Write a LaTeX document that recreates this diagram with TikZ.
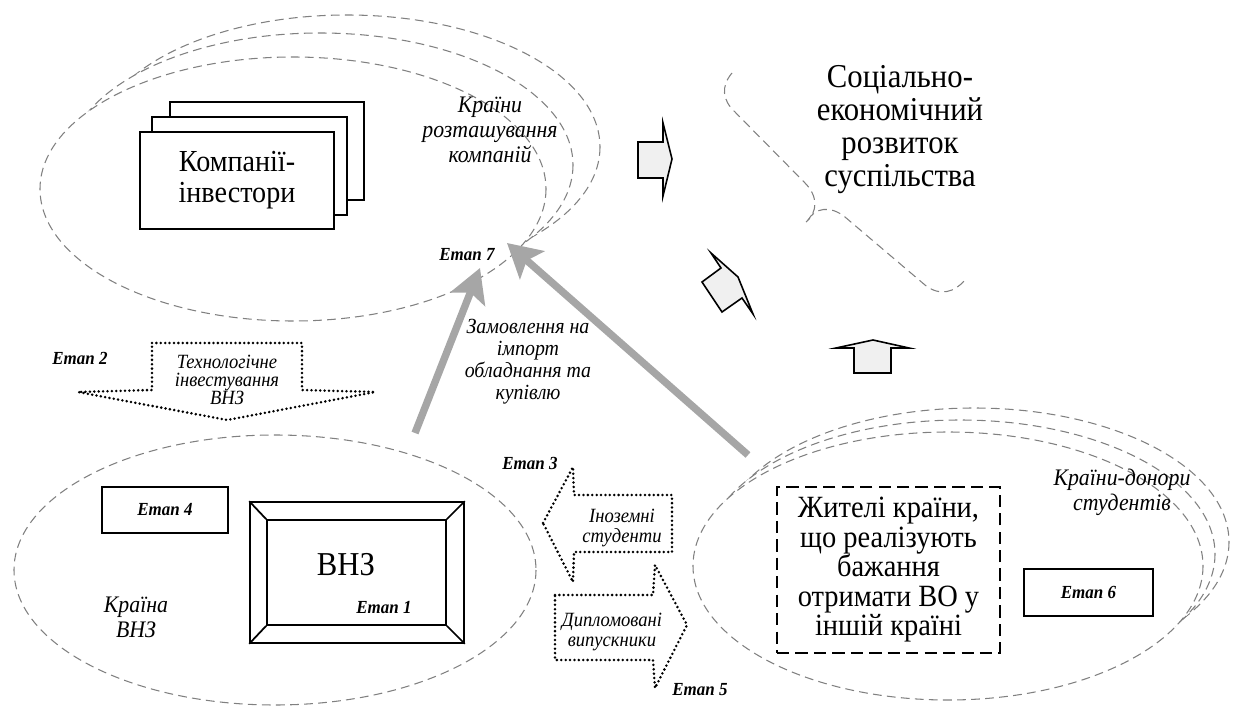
\documentclass[tikz,border=0pt]{standalone}
\usepackage{fontspec}
\setmainfont{Liberation Serif}[FakeStretch=0.92]
\usetikzlibrary{arrows.meta}

\begin{document}
\begin{tikzpicture}[x=0.02cm,y=-0.02cm,
    region/.style={draw=gray,fill=white,line width=0.6pt,dash pattern=on 5pt off 3pt},
    box/.style={draw,fill=white,line width=1pt,inner sep=0pt},
    dotarrow/.style={line width=1.6pt,line cap=round,dash pattern=on 0pt off 2.5pt},
    blockarrow/.style={draw,line width=0.9pt,fill=gray!12},
    flow/.style={line width=4.2pt,draw=gray!70,-{Stealth[length=19pt,width=21pt,inset=4pt]}},
    stage/.style={font=\fontsize{10.5}{12}\selectfont\bfseries\itshape},
    note/.style={font=\fontsize{13.5}{14.2}\selectfont\itshape,align=center},
    small/.style={font=\fontsize{11.5}{10.4}\selectfont\itshape,align=center},
    big/.style={font=\fontsize{17.4}{17.6}\selectfont,align=center}]
  \useasboundingbox (0,0) rectangle (1235,706);

  % country regions
  \draw[region] (347,147) ellipse [x radius=253, y radius=132];
  \draw[region] (320,165) ellipse [x radius=253, y radius=132];
  \draw[region] (293,189) ellipse [x radius=253, y radius=132];
  \draw[region] (275,570) ellipse [x radius=261, y radius=135];
  \draw[region] (974,542) ellipse [x radius=255, y radius=134];
  \draw[region] (960,554) ellipse [x radius=255, y radius=134];
  \draw[region] (948,566) ellipse [x radius=255, y radius=134];

  \node[note] (hostlbl) at (490,130) {Країни\\розташування\\компаній};
  \node[note] (homelbl) at (136,617) {Країна\\ВНЗ};
  \node[note] (donorlbl) at (1122,492) {Країни-донори\\студентів};

  % investors
  \node[box,minimum width=3.88cm,minimum height=1.96cm] (cbox3) at (267,151) {};
  \node[box,minimum width=3.9cm,minimum height=1.96cm] (cbox2) at (249.5,166) {};
  \node[box,minimum width=3.88cm,minimum height=1.94cm,big] (companies) at (237,180.5) {Компанії-\\інвестори};

  % university
  \node[box,minimum width=4.28cm,minimum height=2.82cm] (vnz) at (357,572.5) {};
  \node[box,minimum width=3.58cm,minimum height=2.1cm] (vnzin) at (356.5,572.5) {};
  \foreach \c in {north west,north east,south west,south east}
    \draw[line width=1pt] (vnz.\c) -- (vnzin.\c);
  \node[big,font=\fontsize{19}{19}\selectfont] (vnzlbl) at (346,565) {ВНЗ};
  \node[stage] (st1) at (384,608) {Етап 1};
  \node[box,minimum width=2.52cm,minimum height=0.92cm,stage] (st4) at (165,510) {Етап 4};

  % students' home
  \node[draw,line width=1pt,dash pattern=on 7pt off 3.5pt,minimum width=4.46cm,minimum height=3.32cm,
        big,font=\fontsize{17.6}{16.8}\selectfont] (residents) at (888.5,570) {Жителі країни,\\що реалізують\\бажання\\отримати ВО у\\іншій країні};
  \node[box,minimum width=2.58cm,minimum height=0.94cm,stage] (st6) at (1088.5,592.5) {Етап 6};

  % society
  \node[big,font=\fontsize{19}{18.8}\selectfont] (society) at (900,130) {Соціально-\\економічний\\розвиток\\суспільства};
  \draw[gray,line width=0.6pt,dash pattern=on 5pt off 3pt]
    (732,73) .. controls (721,86) and (722,100) .. (735,112) -- (805,183)
    .. controls (818,196) and (818,212) .. (806,222);
  \draw[gray,line width=0.6pt,dash pattern=on 5pt off 3pt]
    (808,220) .. controls (815,208) and (830,205) .. (845,217) -- (925,285)
    .. controls (940,297) and (955,292) .. (965,280);
  \draw[blockarrow] (638,142) -- (663,142) -- (663,123) -- (672,159) -- (663,196) -- (663,178) -- (638,178) -- cycle;
  \draw[blockarrow] (702,282) -- (721,268) -- (711,253) -- (738,277) -- (753,314) -- (742,298) -- (722,312) -- cycle;
  \draw[blockarrow] (854,373) -- (854,348) -- (836,348) -- (873,340) -- (909,348) -- (891,348) -- (891,373) -- cycle;

  % stage 2
  \draw[dotarrow] (152,343) -- (302,343) -- (302,390) -- (375,392) -- (227,420) -- (78,392) -- (152,390) -- cycle;
  \node[small] (invest) at (227,380) {Технологічне\\інвестування\\ВНЗ};
  \node[stage] (st2) at (80,358) {Етап 2};

  % stages 3 and 5
  \draw[dotarrow] (543,523) -- (573,467) -- (574,495) -- (672,495) -- (672,552) -- (574,552) -- (573,582) -- cycle;
  \node[small,font=\fontsize{11.5}{11.4}\selectfont\itshape] (foreign) at (622,528) {Іноземні\\студенти};
  \draw[dotarrow] (555,595) -- (653,595) -- (655,565) -- (687,625) -- (655,688) -- (653,660) -- (555,660) -- cycle;
  \node[small,font=\fontsize{11.5}{11.4}\selectfont\itshape] (grads) at (612,632) {Дипломовані\\випускники};
  \node[stage] (st3) at (530,463) {Етап 3};
  \node[stage] (st5) at (700,690) {Етап 5};

  % stage 7
  \coordinate (tail1) at (415,433);
  \coordinate (tip1) at (480,268);
  \coordinate (tail2) at (748,455);
  \coordinate (tip2) at (507,243);
  \draw[flow] (tail1) -- (tip1);
  \draw[flow] (tail2) -- (tip2);
  \node[stage] (st7) at (467,255) {Етап 7};
  \node[small,font=\fontsize{12.3}{12.5}\selectfont\itshape] (orders) at (528,362) {Замовлення на\\імпорт\\обладнання та\\купівлю};
\end{tikzpicture}
\end{document}
